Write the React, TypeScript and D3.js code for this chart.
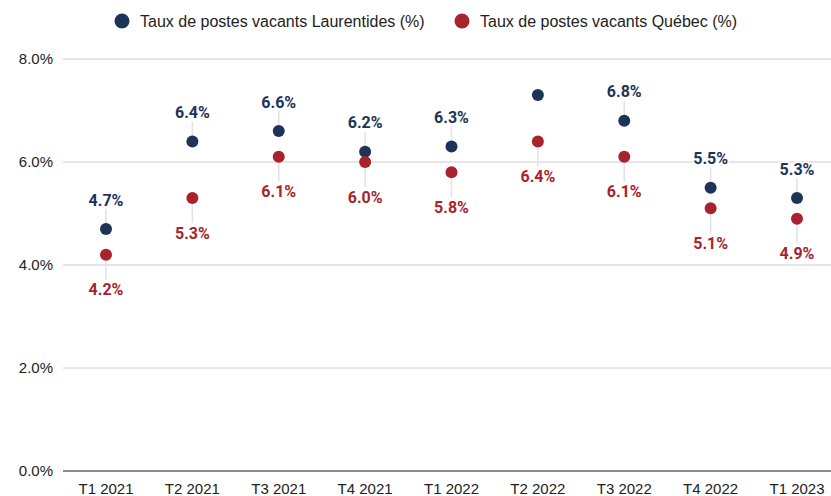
import React, { useRef, useEffect } from 'react';
import * as d3 from 'd3';

const categories = ['T1 2021', 'T2 2021', 'T3 2021', 'T4 2021', 'T1 2022', 'T2 2022', 'T3 2022', 'T4 2022', 'T1 2023'];
const laurentides = [4.7, 6.4, 6.6, 6.2, 6.3, 7.3, 6.8, 5.5, 5.3];
const quebec = [4.2, 5.3, 6.1, 6.0, 5.8, 6.4, 6.1, 5.1, 4.9];
const yTicks = [0, 2, 4, 6, 8];

const series = [
  { name: 'Taux de postes vacants Laurentides (%)', values: laurentides, color: '#1d3358', above: true },
  { name: 'Taux de postes vacants Québec (%)', values: quebec, color: '#a8232d', above: false },
];

const W = 831;
const H = 496;

const App: React.FC = () => {
  const ref = useRef<SVGSVGElement>(null);

  useEffect(() => {
    if (!ref.current) return;
    const svg = d3.select(ref.current);
    svg.selectAll('*').remove();

    const margin = { top: 59, right: 0, bottom: 25, left: 63 };
    const x = d3.scalePoint<string>().domain(categories).range([106, 797]);
    const y = d3.scaleLinear().domain([0, 8]).range([H - margin.bottom, margin.top]);

    // grid + y labels
    const grid = svg.append('g');
    yTicks.forEach(t => {
      grid.append('line')
        .attr('x1', margin.left).attr('x2', W - margin.right)
        .attr('y1', y(t)).attr('y2', y(t))
        .attr('stroke', t === 0 ? '#666' : '#ccc')
        .attr('stroke-width', t === 0 ? 1.5 : 1);
      grid.append('text')
        .attr('x', 53).attr('y', y(t)).attr('dy', '0.35em')
        .attr('text-anchor', 'end')
        .style('font-family', 'Liberation Sans, Arial, sans-serif')
        .style('font-size', '15px').attr('fill', '#222')
        .text(d3.format('.1f')(t) + '%');
    });

    // x labels
    svg.append('g').selectAll('text')
      .data(categories).enter().append('text')
      .attr('x', d => x(d) || 0).attr('y', 489).attr('dy', '0.35em')
      .attr('text-anchor', 'middle')
      .style('font-family', 'Liberation Sans, Arial, sans-serif')
      .style('font-size', '15px').attr('fill', '#222')
      .text(d => d);

    series.forEach(s => {
      const g = svg.append('g');
      s.values.forEach((v, i) => {
        const cx = x(categories[i]) || 0;
        const cy = y(v);
        const ly = s.above ? cy - 29 : cy + 35;
        if (ly - 8 < margin.top) {
          g.append('circle').attr('cx', cx).attr('cy', cy).attr('r', 6).attr('fill', s.color);
          return;
        }
        // leader line
        g.append('line')
          .attr('x1', cx).attr('x2', cx)
          .attr('y1', s.above ? ly + 9 : cy)
          .attr('y2', s.above ? cy : ly - 10)
          .attr('stroke', '#e2e2e2').attr('stroke-width', 1.5);
        g.append('circle').attr('cx', cx).attr('cy', cy).attr('r', 6).attr('fill', s.color);
        g.append('text')
          .attr('x', cx).attr('y', ly).attr('dy', '0.35em')
          .attr('text-anchor', 'middle')
          .style('font-family', 'Roboto, sans-serif')
          .style('font-size', '16px').style('font-weight', 'bold')
          .attr('fill', s.color)
          .attr('stroke', '#fff').attr('stroke-width', 3).attr('paint-order', 'stroke')
          .text(d3.format('.1f')(v) + '%');
      });
    });

    // legend
    const legX = [122, 462];
    series.forEach((s, i) => {
      const lg = svg.append('g').attr('transform', `translate(${legX[i]},21)`);
      lg.append('circle').attr('r', 7.5).attr('fill', s.color);
      lg.append('text')
        .attr('x', 18).attr('dy', '0.35em')
        .style('font-family', 'Liberation Sans, Arial, sans-serif')
        .style('font-size', '16px').attr('fill', '#222')
        .text(s.name);
    });
  }, []);

  return (
    <svg ref={ref} width={W} height={H}
      style={{ position: 'absolute', left: 0, top: 0, background: '#fff' }} />
  );
};

export default App;
